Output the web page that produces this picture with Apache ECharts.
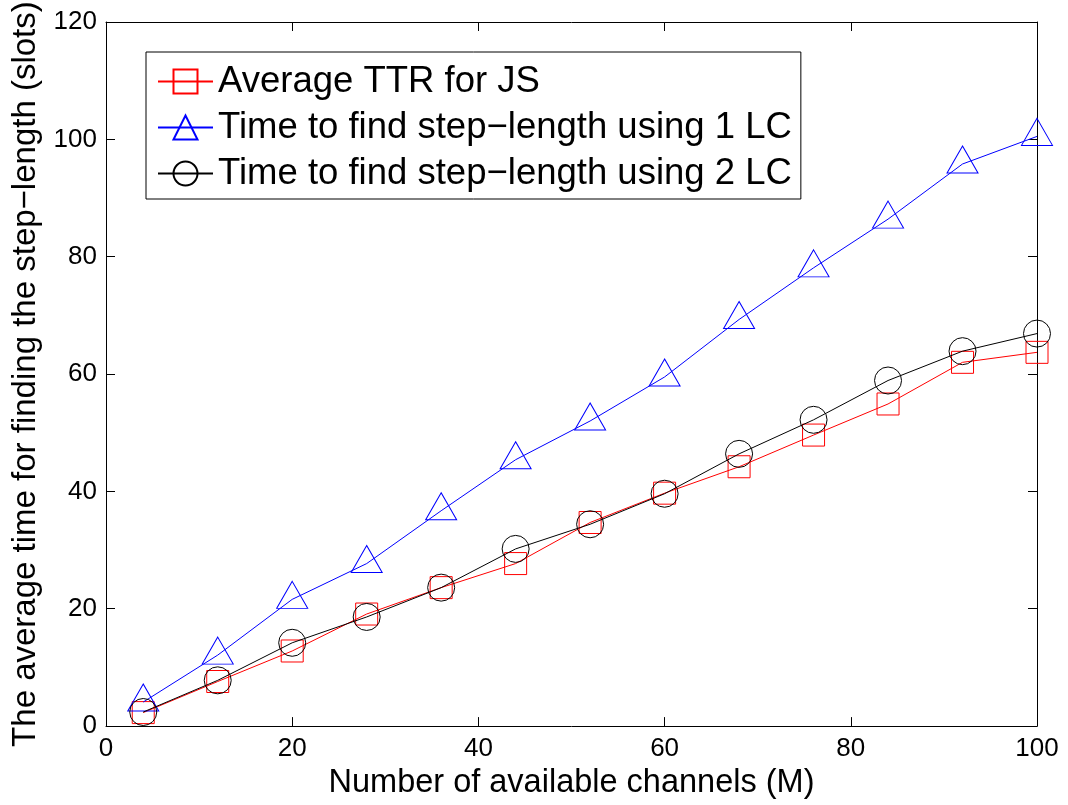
<!DOCTYPE html>
<html>
<head>
<meta charset="utf-8">
<script src="https://cdn.jsdelivr.net/npm/echarts@6/dist/echarts.min.js"></script>
<style>html,body{margin:0;padding:0;background:#fff}#c{width:1068px;height:805px}</style>
</head>
<body>
<div id="c"></div>
<script>
const channels = [4, 12, 20, 28, 36, 44, 52, 60, 68, 76, 84, 92, 100];
const ttrJS = [2.3, 7.6, 12.8, 19.1, 23.6, 27.7, 34.7, 39.7, 44.2, 49.6, 54.9, 62.0, 63.7];
const stepLen1LC = [4.1, 12.1, 21.6, 27.7, 36.7, 45.4, 52.0, 59.5, 69.3, 78.1, 86.4, 95.8, 100.5];
const stepLen2LC = [2.4, 7.8, 14.2, 18.6, 23.6, 30.2, 34.4, 39.6, 46.4, 52.2, 58.9, 63.9, 66.9];
const seriesNames = ['Average TTR for JS', 'Time to find step\u2212length using 1 LC', 'Time to find step\u2212length using 2 LC'];
const xTicks = [0, 20, 40, 60, 80, 100];
const yTicks = [0, 20, 40, 60, 80, 100, 120];

const FONT = '"Liberation Sans", Arial, Helvetica, sans-serif';
const pairs = arr => channels.map((x, i) => [x, arr[i]]);

function makeAxis(extra) {
  return Object.assign({
    type: 'value',
    min: 0,
    interval: 20,
    axisLine: {show: true, onZero: false, lineStyle: {color: '#000', width: 1}},
    axisTick: {show: true, inside: true, length: 9, lineStyle: {color: '#000', width: 1}},
    splitLine: {show: false}
  }, extra);
}

const chart = echarts.init(document.getElementById('c'), null, {renderer: 'canvas'});
chart.setOption({
  animation: false,
  backgroundColor: '#fff',
  grid: {left: 106, right: 31, top: 22, bottom: 75, containLabel: false},
  xAxis: [
    makeAxis({
      max: 100, position: 'bottom',
      name: 'Number of available channels (M)', nameLocation: 'middle', nameGap: 37,
      nameTextStyle: {fontSize: 32.5, fontFamily: FONT, color: '#000'},
      axisLabel: {fontSize: 26, fontFamily: FONT, color: '#000', margin: 10,
        formatter: v => xTicks.includes(v) ? String(v) : ''}
    }),
    makeAxis({max: 100, position: 'top', axisLabel: {show: false}})
  ],
  yAxis: [
    makeAxis({
      max: 120, position: 'left',
      name: 'The average time for finding the step\u2212length (slots)', nameLocation: 'middle', nameGap: 56,
      nameTextStyle: {fontSize: 33, fontFamily: FONT, color: '#000'},
      axisLabel: {fontSize: 26, fontFamily: FONT, color: '#000', margin: 9,
        formatter: v => yTicks.includes(v) ? String(v) : ''}
    }),
    makeAxis({max: 120, position: 'right', axisLabel: {show: false}})
  ],
  legend: {
    orient: 'vertical', left: 146, top: 52,
    padding: [11, 9, 7, 11],
    itemGap: 9, itemWidth: 55, itemHeight: 30,
    borderColor: '#000', borderWidth: 1, backgroundColor: '#fff',
    textStyle: {fontSize: 36.5, fontFamily: FONT, color: '#000'},
    data: seriesNames
  },
  series: [
    {
      name: seriesNames[0], type: 'line', data: pairs(ttrJS), z: 3,
      symbol: 'rect', symbolSize: 22,
      lineStyle: {color: '#ff0000', width: 1},
      itemStyle: {color: 'rgba(0,0,0,0)', borderColor: '#ff0000', borderWidth: 1}
    },
    {
      name: seriesNames[1], type: 'line', data: pairs(stepLen1LC), z: 4,
      symbol: 'triangle', symbolSize: [31, 27], symbolOffset: [0, -4.5],
      lineStyle: {color: '#0000ff', width: 1},
      itemStyle: {color: 'rgba(0,0,0,0)', borderColor: '#0000ff', borderWidth: 1}
    },
    {
      name: seriesNames[2], type: 'line', data: pairs(stepLen2LC), z: 5,
      symbol: 'circle', symbolSize: 27,
      lineStyle: {color: '#000000', width: 1},
      itemStyle: {color: 'rgba(0,0,0,0)', borderColor: '#000000', borderWidth: 1}
    }
  ]
});
</script>
</body>
</html>
